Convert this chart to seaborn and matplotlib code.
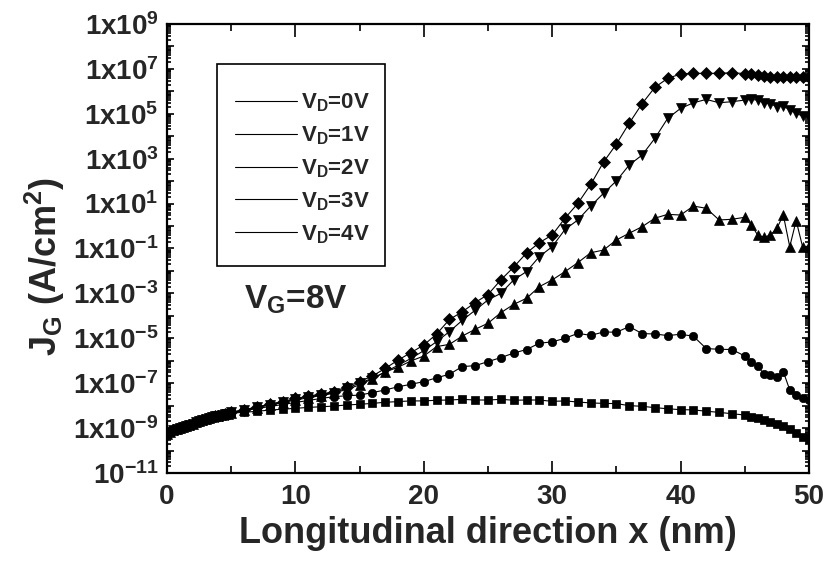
import numpy as np
import pandas as pd
import matplotlib
matplotlib.use("Agg")
import matplotlib.pyplot as plt
import seaborn as sns
from matplotlib.lines import Line2D
from matplotlib.patches import Rectangle
from matplotlib.ticker import FixedLocator, FuncFormatter, LogLocator, MultipleLocator, NullFormatter

# ---------------- data (log10 of J_G in A/cm^2) ----------------
x_nm = [0, 0.25, 0.5, 0.75, 1, 1.25, 1.5, 1.75, 2, 2.25, 2.5, 2.75, 3, 3.25, 3.5, 3.75,
        4, 4.25, 4.5, 4.75,
        5, 6, 7, 8, 9, 10, 11, 12, 13, 14, 15, 16, 17, 18, 19, 20, 21, 22, 23, 24, 25,
        26, 27, 28, 29, 30, 31, 32, 33, 34, 35, 36, 37, 38, 39, 40, 41, 42, 43, 44, 45,
        45.5, 46, 46.5, 47, 47.5, 48, 48.5, 49, 49.5, 50]

log_start = [-9.25, -9.17, -9.10, -9.05, -9.00, -8.95, -8.90, -8.85, -8.80, -8.74,
             -8.68, -8.64, -8.60, -8.56, -8.52, -8.48, -8.45, -8.42, -8.39, -8.36]

log_vd0 = [-8.33, -8.30, -8.25, -8.20, -8.16, -8.12, -8.08, -8.05, -8.02, -7.97,
           -7.94, -7.90, -7.85, -7.82, -7.79, -7.79, -7.76, -7.75, -7.72, -7.75,
           -7.75, -7.72, -7.76, -7.75, -7.75, -7.81, -7.79, -7.84, -7.88, -7.90,
           -7.91, -8.00, -8.03, -8.09, -8.14, -8.18, -8.19, -8.25, -8.30, -8.36, -8.42,
           -8.49, -8.56, -8.64, -8.71, -8.82, -8.91, -9.05, -9.21, -9.38, -9.50]

log_vd1 = [-8.32, -8.23, -8.13, -8.04, -7.95, -7.86, -7.77, -7.68, -7.60, -7.56,
           -7.53, -7.42, -7.30, -7.16, -7.05, -6.93, -6.76, -6.60, -6.26, -6.22,
           -6.04, -5.86, -5.66, -5.50, -5.22, -5.16, -5.00, -4.78, -4.87, -4.72,
           -4.73, -4.48, -4.79, -4.81, -4.88, -4.82, -4.91, -5.46, -5.49, -5.50, -5.79,
           -6.04, -6.23, -6.60, -6.63, -6.71, -6.49, -7.30, -7.53, -7.67, -7.75]

log_vd2 = [-8.31, -8.20, -8.09, -7.97, -7.87, -7.75, -7.65, -7.55, -7.45, -7.27,
           -7.08, -6.80, -6.50, -6.29, -6.01, -5.79, -5.37, -5.27, -4.90, -4.60,
           -4.33, -3.86, -3.49, -3.22, -2.70, -2.40, -2.03, -1.63, -1.19, -1.07,
           -0.62, -0.32, -0.03, 0.35, 0.52, 0.49, 0.89, 0.79, 0.27, 0.30, 0.39,
           0.05, -0.40, -0.50, -0.40, -0.10, 0.49, -0.92, 0.24, -0.92, -0.90]

log_vd3 = [-8.30, -8.19, -8.08, -7.95, -7.84, -7.71, -7.61, -7.51, -7.42, -7.22,
           -7.00, -6.78, -6.50, -6.20, -5.90, -5.55, -5.15, -4.70, -4.20, -3.75,
           -3.29, -3.00, -2.40, -2.03, -1.36, -0.92, -0.15, 0.27, 0.89, 1.46,
           2.01, 2.72, 3.16, 3.91, 4.80, 5.24, 5.49, 5.64, 5.49, 5.54, 5.61,
           5.64, 5.61, 5.49, 5.44, 5.32, 5.35, 5.17, 5.02, 4.90, 4.85]

log_vd4 = [-8.30, -8.18, -8.06, -7.93, -7.82, -7.68, -7.58, -7.48, -7.38, -7.16,
           -6.93, -6.68, -6.34, -5.97, -5.64, -5.30, -4.81, -4.16, -3.82, -3.41,
           -3.05, -2.40, -1.83, -1.20, -0.74, -0.40, 0.35, 1.01, 1.85, 2.85,
           3.65, 4.58, 5.45, 6.18, 6.58, 6.77, 6.80, 6.80, 6.80, 6.83, 6.79,
           6.77, 6.72, 6.67, 6.65, 6.66, 6.66, 6.66, 6.66, 6.66, 6.66]

series_labels = ["V$_{D}$=0V", "V$_{D}$=1V", "V$_{D}$=2V", "V$_{D}$=3V", "V$_{D}$=4V"]
series_logs = [log_vd0, log_vd1, log_vd2, log_vd3, log_vd4]
series_markers = ["s", "o", "^", "v", "D"]
series_msize = [5.5, 6.0, 7.0, 7.0, 6.0]

ytick_exps = list(range(-11, 10))
ylabel_exps = [9, 7, 5, 3, 1, -1, -3, -5, -7, -9, -11]

# ---------------- style ----------------
sns.set_style("ticks")
plt.rcParams["font.family"] = ["Liberation Sans", "DejaVu Sans"]
plt.rcParams["font.weight"] = "bold"
plt.rcParams["mathtext.fontset"] = "custom"
plt.rcParams["mathtext.rm"] = "Liberation Sans:bold"
plt.rcParams["mathtext.bf"] = "Liberation Sans:bold"
plt.rcParams["mathtext.it"] = "Liberation Sans:bold"
plt.rcParams["mathtext.default"] = "bf"

rows = []
for lab, logs in zip(series_labels, series_logs):
    vals = log_start + logs
    for xv, lv in zip(x_nm, vals):
        rows.append({"x": xv, "J": 10.0 ** lv, "series": lab})
df = pd.DataFrame(rows)

fig = plt.figure(figsize=(8.3, 5.63), dpi=100)
ax = fig.add_axes([0.2012, 0.1599, 0.7735, 0.7975])

for lab, mk, ms in zip(series_labels, series_markers, series_msize):
    sub = df[df["series"] == lab]
    sns.lineplot(data=sub, x="x", y="J", ax=ax, color="black", lw=0.8,
                 marker=mk, markersize=ms, markeredgecolor="black",
                 markeredgewidth=0.5, estimator=None, legend=False, zorder=3)

ax.set_yscale("log")
ax.set_xlim(0, 50)
ax.set_ylim(1e-11, 1e9)

ax.xaxis.set_major_locator(MultipleLocator(10))
ax.xaxis.set_minor_locator(MultipleLocator(5))
ax.yaxis.set_major_locator(FixedLocator([10.0 ** e for e in ytick_exps]))
ax.yaxis.set_minor_locator(LogLocator(base=10, subs=np.arange(2, 10), numticks=100))
ax.yaxis.set_minor_formatter(NullFormatter())


def yfmt(v, pos):
    e = int(round(np.log10(v)))
    if e not in ylabel_exps:
        return ""
    if e == -11:
        return "10$^{%d}$" % e
    return "1x10$^{%d}$" % e


ax.yaxis.set_major_formatter(FuncFormatter(yfmt))

for s in ax.spines.values():
    s.set_linewidth(1.6)
    s.set_color("black")
    s.set_visible(True)

ax.tick_params(which="both", direction="in", top=True, right=True, width=1.2, color="black")
ax.tick_params(axis="x", which="major", length=9, labelsize=20, pad=8)
ax.tick_params(axis="x", which="minor", length=5)
ax.tick_params(axis="y", which="major", length=5, labelsize=20, pad=6)
ax.tick_params(axis="y", which="minor", length=3)
for t in ax.get_xticklabels() + ax.get_yticklabels():
    t.set_fontweight("bold")

ax.set_xlabel("Longitudinal direction x (nm)", fontsize=26, fontweight="bold", labelpad=4)
ax.set_ylabel("J$_{G}$ (A/cm$^{2}$)", fontsize=26, fontweight="bold")
ax.yaxis.set_label_coords(-0.155, 0.46)

# legend: entries without frame, box drawn separately
handles = [Line2D([], [], color="black", lw=0.8) for _ in series_labels]
leg = ax.legend(handles, series_labels, loc="upper left", bbox_to_anchor=(0.106, 0.849),
                borderaxespad=0, borderpad=0, frameon=False,
                handlelength=2.8, handletextpad=0.15, labelspacing=0.46,
                prop={"weight": "bold", "size": 16})
ax.add_patch(Rectangle((0.078, 0.461), 0.262, 0.45, transform=ax.transAxes,
                       fill=False, edgecolor="black", lw=1.2, zorder=5))

ax.text(0.201, 0.385, "V$_{G}$=8V", transform=ax.transAxes, fontsize=24,
        fontweight="bold", ha="center", va="center")

fig.savefig("out.png", dpi=100)
